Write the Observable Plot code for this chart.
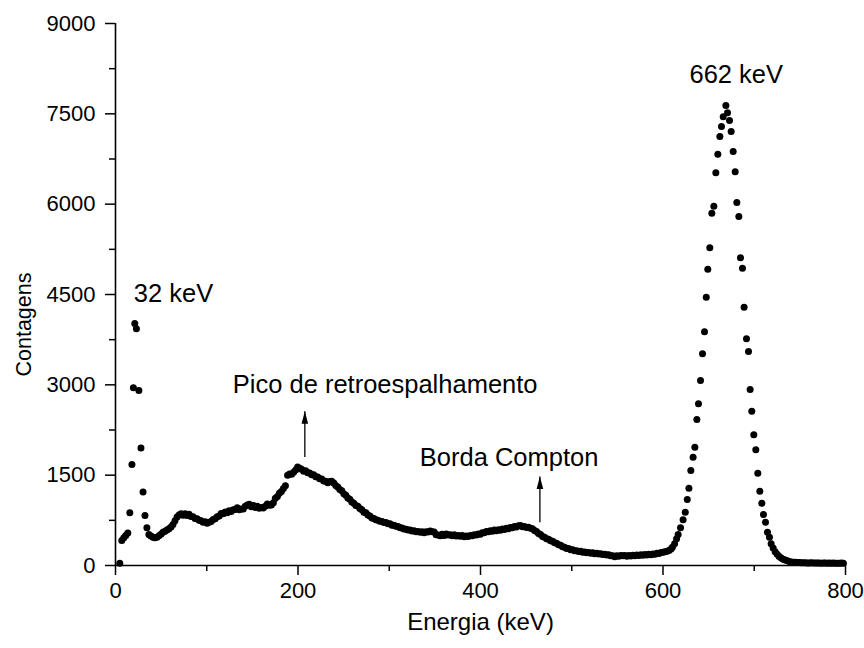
<!DOCTYPE html>
<html>
<head>
<meta charset="utf-8">
<script src="https://cdn.jsdelivr.net/npm/d3@7"></script>
<script src="https://cdn.jsdelivr.net/npm/@observablehq/plot@0.6"></script>
<style>
  html, body { margin: 0; padding: 0; background: white; }
</style>
</head>
<body>
<div id="chart"></div>
<script>
// Energy (keV) of each channel and counts
const energia = [
  4.7, 6.9, 9.1, 11.3, 13.5, 15.7, 18.0, 19.6, 21.1, 22.9, 25.6, 27.9, 30.2, 32.3, 34.4, 36.6, 38.8, 41.0, 43.2, 45.4,
  47.6, 49.8, 52.0, 54.2, 56.4, 58.6, 60.8, 63.0, 65.2, 67.4, 69.6, 71.8, 74.0, 76.2, 78.4, 80.6, 82.8, 85.0, 87.2, 89.4,
  91.6, 93.8, 96.0, 98.2, 100.4, 102.6, 104.8, 107.0, 109.2, 111.4, 113.6, 115.8, 118.0, 120.2, 122.4, 124.6, 126.8, 129.0, 131.2, 133.4,
  135.6, 137.8, 140.0, 142.2, 144.4, 146.6, 148.8, 151.0, 153.2, 155.4, 157.6, 159.8, 162.0, 164.2, 166.4, 168.6, 170.8, 173.0, 175.2, 177.4,
  179.6, 181.8, 184.0, 186.2, 188.6, 190.8, 193.0, 195.2, 197.4, 199.6, 201.8, 204.0, 206.2, 208.4, 210.6, 212.8, 215.0, 217.2, 219.4, 221.6,
  223.8, 226.0, 228.2, 230.4, 232.6, 234.8, 237.0, 239.2, 241.4, 243.6, 245.8, 248.0, 250.2, 252.4, 254.6, 256.8, 259.0, 261.2, 263.4, 265.6,
  267.8, 270.0, 272.2, 274.4, 276.6, 278.8, 281.0, 283.2, 285.4, 287.6, 289.8, 292.0, 294.2, 296.4, 298.6, 300.8, 303.0, 305.2, 307.4, 309.6,
  311.8, 314.0, 316.2, 318.4, 320.6, 322.8, 325.0, 327.2, 329.4, 331.6, 333.8, 336.0, 338.2, 340.4, 342.6, 344.8, 347.0, 349.2, 351.4, 353.6,
  355.8, 358.0, 360.2, 362.4, 364.6, 366.8, 369.0, 371.2, 373.4, 375.6, 377.8, 380.0, 382.2, 384.4, 386.6, 388.8, 391.0, 393.2, 395.4, 397.6,
  399.8, 402.0, 404.2, 406.4, 408.6, 410.8, 413.0, 415.2, 417.4, 419.6, 421.8, 424.0, 426.2, 428.4, 430.6, 432.8, 435.0, 437.2, 439.4, 441.6,
  443.8, 446.0, 448.2, 450.4, 452.6, 454.8, 457.0, 459.2, 461.4, 463.6, 465.8, 468.0, 470.2, 472.4, 474.6, 476.8, 479.0, 481.2, 483.4, 485.6,
  487.8, 490.0, 492.2, 494.4, 496.6, 498.8, 501.0, 503.2, 505.4, 507.6, 509.8, 512.0, 514.2, 516.4, 518.6, 520.8, 523.0, 525.2, 527.4, 529.6,
  531.8, 534.0, 536.2, 538.4, 540.6, 542.8, 545.0, 547.2, 549.4, 551.6, 553.8, 556.0, 558.2, 560.4, 562.6, 564.8, 567.0, 569.2, 571.4, 573.6,
  575.8, 578.0, 580.2, 582.4, 584.6, 586.8, 589.0, 591.2, 593.4, 595.6, 597.8, 600.0, 602.2, 604.4, 606.6, 608.8, 610.3, 612.7, 614.9, 616.6,
  619.2, 622.0, 624.4, 626.6, 628.4, 630.5, 633.0, 634.9, 637.1, 638.9, 641.1, 643.3, 645.5, 647.4, 649.1, 651.3, 653.5, 655.7, 657.9, 660.1,
  662.3, 664.1, 666.0, 668.9, 670.7, 672.9, 674.7, 676.9, 679.1, 680.9, 683.1, 684.9, 687.1, 688.9, 691.5, 693.7, 695.5, 697.3, 699.5, 701.7,
  703.9, 706.1, 708.3, 710.1, 712.3, 714.5, 716.7, 718.5, 720.7, 722.9, 725.1, 727.3, 729.5, 731.7, 733.9, 736.1, 738.3, 740.5, 742.7, 744.9,
  747.1, 749.3, 751.5, 753.7, 755.9, 758.1, 760.3, 762.5, 764.7, 766.9, 769.1, 771.3, 773.5, 775.7, 777.9, 780.1, 782.3, 784.5, 786.7, 788.9,
  791.1, 793.3, 795.5, 797.7
];
const contagens = [
  38, 415, 460, 500, 540, 875, 1677, 2950, 4020, 3930, 2905, 1950, 1220, 830, 626, 515, 490, 470, 462, 470,
  495, 520, 553, 570, 590, 610, 640, 680, 745, 805, 840, 858, 835, 860, 830, 850, 815, 810, 780, 775,
  750, 745, 720, 725, 700, 720, 730, 765, 775, 810, 820, 865, 860, 890, 875, 910, 895, 925, 930, 960,
  925, 940, 940, 985, 1005, 1015, 975, 995, 965, 985, 950, 965, 955, 985, 1020, 1000, 1005, 1040, 1115, 1145,
  1200, 1230, 1280, 1325, 1500, 1520, 1515, 1550, 1585, 1635, 1615, 1600, 1565, 1575, 1540, 1535, 1505, 1505, 1475, 1470,
  1440, 1435, 1405, 1400, 1375, 1395, 1400, 1370, 1330, 1305, 1260, 1240, 1190, 1165, 1120, 1100, 1055, 1035, 995, 985,
  945, 925, 885, 875, 840, 820, 790, 782, 758, 752, 734, 732, 715, 712, 694, 692, 670, 668, 650, 646,
  628, 624, 605, 604, 588, 590, 572, 575, 560, 566, 552, 560, 545, 560, 555, 572, 560, 555, 510, 505,
  495, 518, 500, 522, 505, 512, 495, 510, 490, 500, 484, 498, 478, 488, 482, 500, 495, 512, 508, 525,
  520, 545, 545, 565, 560, 578, 570, 588, 578, 595, 585, 605, 598, 618, 610, 632, 625, 648, 640, 660,
  664, 645, 648, 632, 636, 620, 610, 580, 565, 530, 515, 483, 470, 443, 435, 410, 403, 377, 370, 343,
  337, 310, 305, 283, 281, 260, 260, 243, 247, 231, 235, 219, 225, 211, 217, 204, 210, 197, 203, 190,
  195, 181, 187, 173, 177, 160, 163, 147, 160, 155, 168, 160, 167, 155, 165, 158, 170, 163, 175, 165,
  177, 170, 181, 173, 185, 178, 193, 187, 203, 200, 215, 221, 228, 238, 250, 275, 304, 360, 443, 515,
  626, 759, 885, 1096, 1284, 1577, 1798, 1964, 2424, 2685, 3072, 3515, 3880, 4455, 4920, 5275, 5850, 5966, 6521, 6830,
  7124, 7290, 7450, 7638, 7517, 7389, 7207, 6874, 6537, 6028, 5795, 5109, 4937, 4289, 3764, 3553, 2922, 2562, 2170, 1921,
  1533, 1234, 1035, 847, 719, 553, 470, 360, 290, 230, 185, 150, 125, 105, 90, 78, 68, 60, 55, 52,
  50, 48, 45, 44, 46, 43, 42, 45, 41, 40, 43, 40, 38, 42, 40, 39, 41, 38, 40, 37,
  39, 38, 40, 37
];

const xTicks = [0, 200, 400, 600, 800];
const xMinor = [100, 300, 500, 700];
const yTicks = [0, 1500, 3000, 4500, 6000, 7500, 9000];
const yMinor = [750, 2250, 3750, 5250, 6750, 8250];

const rotulos = ["32 keV", "662 keV", "Pico de retroespalhamento", "Borda Compton"];
const rotuloX = [20, 629, 128.5, 333.5];
const rotuloY = [4372, 8004, 2861, 1660];

const setaX = [207.5, 465.1];
const setaBase = [1800, 719];
const setaPonta = [2562, 1478];

const pontos = energia.map((e, i) => ({e, c: contagens[i]}));
const rotData = rotulos.map((t, i) => ({t, x: rotuloX[i], y: rotuloY[i]}));
const setas = setaX.map((x, i) => ({x, y1: setaBase[i], y2: setaPonta[i]}));

const arrowHead = {
  draw(ctx) {
    ctx.moveTo(0, 0);
    ctx.lineTo(-3.3, 12.5);
    ctx.lineTo(3.3, 12.5);
    ctx.closePath();
  }
};

const font = "'Liberation Sans', Arial, Helvetica, sans-serif";

const chart = Plot.plot({
  width: 864,
  height: 648,
  marginLeft: 115,
  marginRight: 19,
  marginTop: 23,
  marginBottom: 83,
  style: {fontFamily: font, background: "white", color: "black", overflow: "visible"},
  x: {domain: [0, 800]},
  y: {domain: [0, 9000]},
  marks: [
    Plot.axisX({ticks: xTicks, tickSize: 10, tickPadding: 7, fontSize: 22, label: null, tickFormat: d => String(d), strokeWidth: 1.5, fill: "black"}),
    Plot.axisX({ticks: xMinor, tickSize: 6, label: null, tickFormat: () => "", strokeWidth: 1.5}),
    Plot.axisY({ticks: yTicks, tickSize: 10, tickPadding: 10, fontSize: 22, label: null, tickFormat: d => String(d), strokeWidth: 1.5, fill: "black"}),
    Plot.axisY({ticks: yMinor, tickSize: 6, label: null, tickFormat: () => "", strokeWidth: 1.5}),
    Plot.ruleX([0], {stroke: "black", strokeWidth: 1.6}),
    Plot.ruleY([0], {stroke: "black", strokeWidth: 1.6}),
    Plot.text(["Energia (keV)"], {frameAnchor: "bottom", textAnchor: "middle", dy: 64, fontSize: 24, fill: "black"}),
    Plot.text(["Contagens"], {frameAnchor: "left", textAnchor: "middle", dx: -91, dy: 30, rotate: -90, fontSize: 21.5, fill: "black"}),
    Plot.dot(pontos, {x: "e", y: "c", r: 3.5, fill: "black", stroke: "none"}),
    Plot.link(setas, {x1: "x", x2: "x", y1: "y1", y2: "y2", stroke: "black", strokeWidth: 1.3}),
    Plot.dot(setas, {x: "x", y: "y2", symbol: arrowHead, r: 4, fill: "black", stroke: "none"}),
    Plot.text(rotData, {x: "x", y: "y", text: "t", textAnchor: "start", lineAnchor: "bottom", fontSize: 25.5, fill: "black"})
  ]
});

document.getElementById("chart").appendChild(chart);
</script>
</body>
</html>
